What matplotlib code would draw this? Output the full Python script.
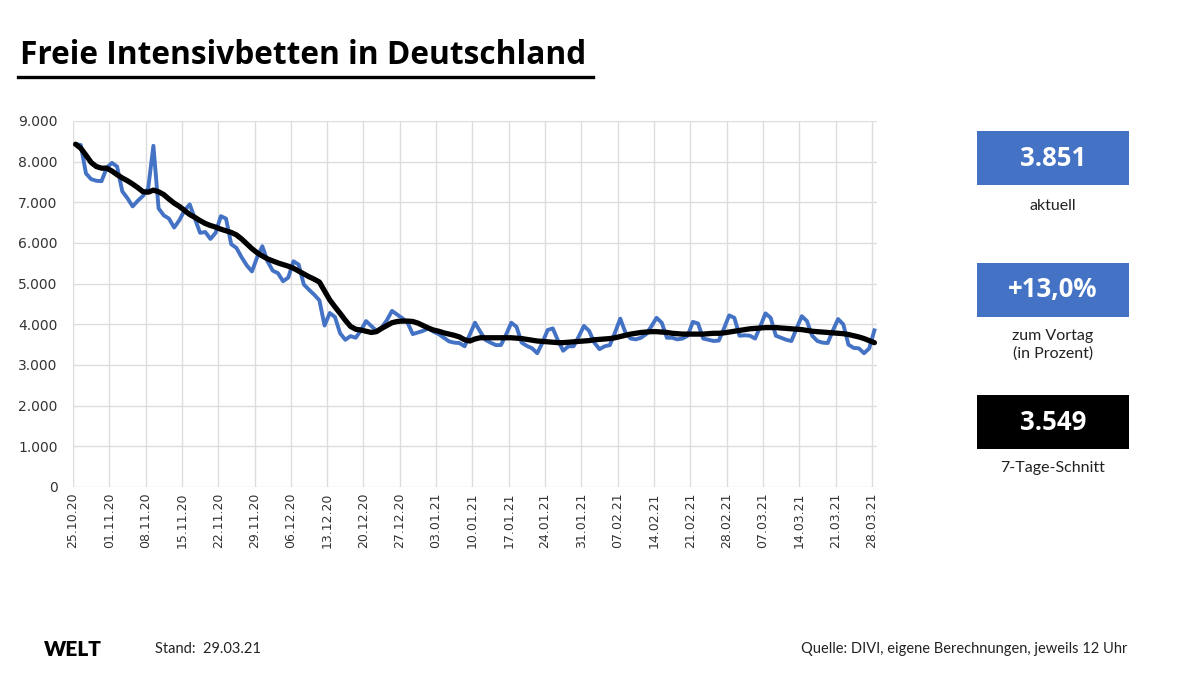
import matplotlib
matplotlib.use("Agg")
import matplotlib.pyplot as plt
import numpy as np
from matplotlib.patches import Rectangle
from matplotlib.ticker import FuncFormatter

# daily values 25.10.20 - 28.03.21 (free ICU beds, in thousands)
freie_betten = [
    8.43, 8.41, 7.71, 7.57, 7.53, 7.52, 7.85, 7.97, 7.88, 7.27,
    7.10, 6.90, 7.04, 7.16, 7.35, 8.39, 6.85, 6.68, 6.60, 6.38,
    6.56, 6.80, 6.95, 6.60, 6.25, 6.27, 6.10, 6.25, 6.66, 6.60,
    5.97, 5.88, 5.65, 5.45, 5.30, 5.65, 5.92, 5.55, 5.32, 5.26,
    5.06, 5.15, 5.55, 5.47, 4.98, 4.85, 4.73, 4.59, 3.97, 4.28,
    4.18, 3.78, 3.62, 3.71, 3.67, 3.85, 4.08, 3.96, 3.84, 3.92,
    4.10, 4.33, 4.24, 4.15, 4.04, 3.76, 3.80, 3.84, 3.90, 3.82,
    3.76, 3.67, 3.58, 3.55, 3.54, 3.46, 3.75, 4.04, 3.82, 3.62,
    3.55, 3.49, 3.49, 3.75, 4.04, 3.94, 3.55, 3.47, 3.41, 3.29,
    3.55, 3.86, 3.90, 3.60, 3.35, 3.46, 3.46, 3.70, 3.96, 3.84,
    3.55, 3.39, 3.46, 3.49, 3.80, 4.14, 3.80, 3.65, 3.63, 3.67,
    3.76, 3.95, 4.16, 4.04, 3.67, 3.67, 3.63, 3.65, 3.72, 4.06,
    4.02, 3.65, 3.62, 3.59, 3.60, 3.90, 4.22, 4.16, 3.72, 3.73,
    3.72, 3.65, 3.95, 4.27, 4.16, 3.72, 3.67, 3.62, 3.59, 3.90,
    4.20, 4.08, 3.72, 3.59, 3.55, 3.54, 3.85, 4.13, 4.00, 3.50,
    3.42, 3.41, 3.29, 3.408, 3.851,
]

# 7-Tage-Schnitt
schnitt_7_tage = [
    8.43, 8.33, 8.16, 7.98, 7.88, 7.84, 7.84, 7.77, 7.68, 7.60,
    7.53, 7.45, 7.36, 7.26, 7.25, 7.30, 7.26, 7.19, 7.08, 6.98,
    6.90, 6.80, 6.70, 6.63, 6.55, 6.48, 6.43, 6.39, 6.34, 6.30,
    6.26, 6.20, 6.10, 5.98, 5.86, 5.76, 5.68, 5.61, 5.56, 5.51,
    5.47, 5.43, 5.38, 5.31, 5.24, 5.17, 5.11, 5.04, 4.82, 4.60,
    4.43, 4.27, 4.10, 3.95, 3.88, 3.86, 3.83, 3.80, 3.82, 3.90,
    3.97, 4.04, 4.07, 4.08, 4.08, 4.07, 4.03, 3.97, 3.91, 3.86,
    3.83, 3.79, 3.76, 3.73, 3.69, 3.62, 3.59, 3.64, 3.67, 3.67,
    3.67, 3.67, 3.67, 3.67, 3.67, 3.66, 3.65, 3.63, 3.61, 3.59,
    3.58, 3.57, 3.56, 3.55, 3.55, 3.56, 3.57, 3.58, 3.59, 3.60,
    3.62, 3.63, 3.64, 3.65, 3.67, 3.70, 3.73, 3.76, 3.78, 3.80,
    3.81, 3.82, 3.82, 3.81, 3.80, 3.78, 3.77, 3.76, 3.76, 3.76,
    3.76, 3.76, 3.77, 3.78, 3.78, 3.79, 3.81, 3.83, 3.85, 3.87,
    3.89, 3.90, 3.91, 3.92, 3.92, 3.92, 3.91, 3.90, 3.89, 3.88,
    3.87, 3.85, 3.83, 3.82, 3.81, 3.80, 3.79, 3.78, 3.77, 3.75,
    3.72, 3.69, 3.65, 3.60, 3.549,
]

datum_labels = [
    "25.10.20", "01.11.20", "08.11.20", "15.11.20", "22.11.20", "29.11.20",
    "06.12.20", "13.12.20", "20.12.20", "27.12.20", "03.01.21", "10.01.21",
    "17.01.21", "24.01.21", "31.01.21", "07.02.21", "14.02.21", "21.02.21",
    "28.02.21", "07.03.21", "14.03.21", "21.03.21", "28.03.21",
]

kennzahlen = ["3.851", "+13,0%", "3.549"]
kennzahl_texte = ["aktuell", "zum Vortag\n(in Prozent)", "7-Tage-Schnitt"]

W, H = 1200, 673
BLAU = "#4472C4"
GRID = "#dddddd"


def fx(x):
    return x / W


def fy(y):
    return 1 - y / H


fig = plt.figure(figsize=(W / 100, H / 100), dpi=100)
fig.patch.set_facecolor("white")

ax = fig.add_axes([fx(73), fy(487), fx(877 - 73), (487 - 121) / H])
n = len(freie_betten)
x = np.arange(n) + 0.5
ax.plot(x, np.array(freie_betten) * 1000, color=BLAU, lw=2.8,
        solid_joinstyle="round", zorder=3)
ax.plot(x, np.array(schnitt_7_tage) * 1000, color="black", lw=3.8,
        solid_joinstyle="round", solid_capstyle="round", zorder=4)

ax.set_xlim(0, n)
ax.set_ylim(0, 9000)
ax.set_yticks(np.arange(0, 9001, 1000))
ax.yaxis.set_major_formatter(FuncFormatter(lambda v, p: f"{int(v):,}".replace(",", ".")))
ax.set_xticks(np.arange(0, n, 7))
ax.set_xticklabels(datum_labels, rotation=90)
ax.grid(True, color=GRID, lw=1)
ax.set_axisbelow(True)
for s in ax.spines.values():
    s.set_visible(False)
ax.tick_params(axis="y", length=0, pad=11, labelsize=10, labelcolor="#333333")
ax.tick_params(axis="x", length=0, pad=4, labelsize=9, labelcolor="#333333")

# title
fig.text(fx(20), fy(55), "Freie Intensivbetten in Deutschland", fontsize=22.8,
         fontweight="bold", family="Open Sans", va="center", ha="left")
fig.add_artist(plt.Line2D([fx(18), fx(593)], [fy(77), fy(77)], color="black",
                          lw=2.4, transform=fig.transFigure))

# key figure boxes
box_tops = [131, 263, 395]
box_farben = [BLAU, BLAU, "black"]
label_y = [206, 345, 468]
for top, farbe, wert, text, ly in zip(box_tops, box_farben, kennzahlen,
                                      kennzahl_texte, label_y):
    fig.add_artist(Rectangle((fx(977), fy(top + 54)), fx(152), 54 / H,
                             transform=fig.transFigure, color=farbe, lw=0))
    fig.text(fx(1053), fy(top + 27), wert, color="white", fontsize=18.5,
             fontweight="bold", family="Open Sans", ha="center", va="center")
    fig.text(fx(1053), fy(ly), text, color="#222222", fontsize=11.5,
             family="Lato", ha="center", va="center", linespacing=1.3)

# footer
fig.text(fx(44), fy(649), "WELT", fontsize=15, fontweight="heavy",
         family="Lato", ha="left", va="center")
fig.text(fx(155), fy(649), "Stand:  29.03.21", fontsize=10.5,
         family="Lato", ha="left", va="center", color="#222222")
fig.text(fx(1127), fy(649), "Quelle: DIVI, eigene Berechnungen, jeweils 12 Uhr",
         fontsize=10.5, family="Lato", ha="right", va="center", color="#222222")

fig.savefig("out.png", dpi=100)
